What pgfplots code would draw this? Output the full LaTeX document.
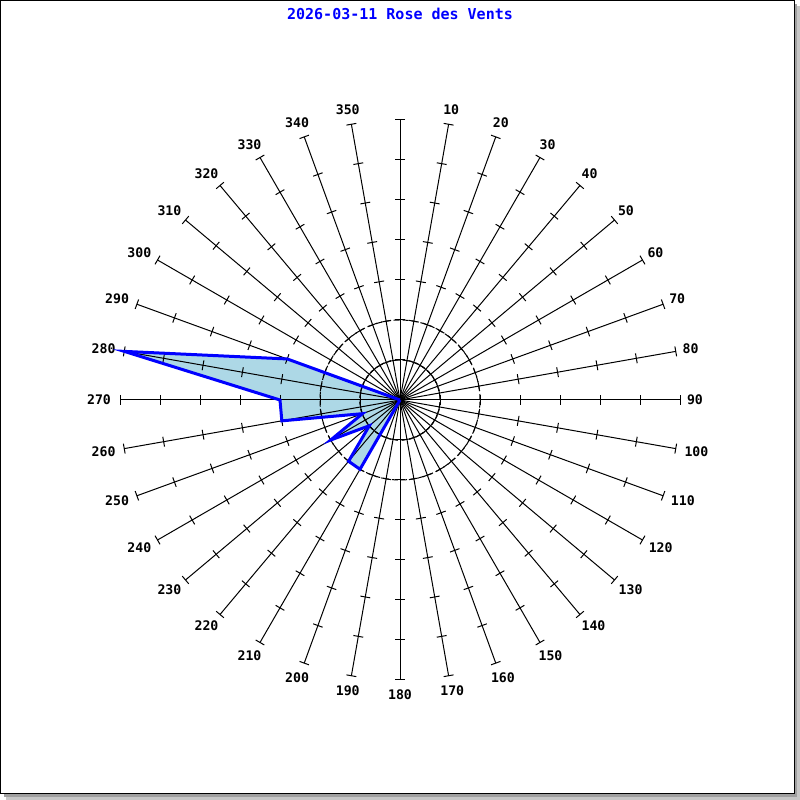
\documentclass[border=0pt]{standalone}
\usepackage{fontspec}
\setmonofont{DejaVu Sans Mono}
\usepackage{pgfplots}
\pgfplotsset{compat=1.18}
\usepackage{pgfplotstable}
\usepgfplotslibrary{polar}
\definecolor{fillblue}{HTML}{ADD8E6}
\definecolor{lineblue}{HTML}{0000FF}

\pgfplotstableread{
dir r
0 0
10 0
20 0
30 0
40 0
50 0
60 0
70 0
80 0
90 0
100 0
110 0
120 0
130 0
140 0
150 0
160 0
170 0
180 0
190 0
200 0
210 2
220 2
230 1
240 2
250 1
260 3
270 3
280 7
290 3
300 0
310 0
320 0
330 0
340 0
350 0
}\windtable

\begin{document}
\begin{tikzpicture}[font=\ttfamily\bfseries\fontsize{6.6}{8}\selectfont]
\begin{axis}[x=20pt,y=20pt,xmin=-10,xmax=10,ymin=-10,ymax=10,
  hide axis, clip=false]
\coordinate (BL) at (axis cs:-10,-10);
\coordinate (TR) at (axis cs:10,10);
\pgfplotsextra{
  \fill[gray!45] (axis cs:-9.85,-10) rectangle (axis cs:10,9.85);
  \fill[gray!75] (axis cs:-9.9,-9.925) rectangle (axis cs:9.925,9.9);
  \draw[line width=0.5pt,fill=white] (axis cs:-9.9875,-9.85) rectangle (axis cs:9.85,9.9875);
}
\addplot[fill=fillblue, draw=none, data cs=polar] table[x expr={90-\thisrow{dir}}, y=r]{\windtable};
\pgfplotsextra{
  \foreach \a in {0,10,...,350}{
    \begin{scope}[shift={(axis cs:0,0)},rotate={90-\a}]
      \draw[line width=0.5pt] (0pt,0pt) -- (140pt,0pt);
      \foreach \k in {1,...,7}{
        \draw[line width=0.5pt] (\k*20pt,-2.5pt) -- (\k*20pt,2.5pt);
      }
    \end{scope}
  }
  \draw[line width=0.5pt,dash pattern=on 3pt off 1.5pt] (axis cs:0,0) circle[radius=20pt];
  \draw[line width=0.5pt,dash pattern=on 3pt off 1.5pt] (axis cs:0,0) circle[radius=40pt];
  \foreach \a in {10,20,...,350}{
    \pgfmathsetmacro\ang{90-\a}
    \pgfmathsetmacro\dx{(\a>=100)*3*sin(\a)}
    \node[inner sep=0pt, anchor=center, xshift=\dx pt] at ([shift={(\ang:147.5pt)}]axis cs:0,0) {\a};
  }
}
\addplot[draw=lineblue, line width=1.5pt, line join=miter, data cs=polar] table[x expr={90-\thisrow{dir}}, y=r]{\windtable};
\node[text=lineblue, font=\ttfamily\bfseries\fontsize{7.5}{9}\selectfont] at (axis cs:0,9.65) {2026-03-11 Rose des Vents};
\end{axis}
\pgfresetboundingbox
\path[use as bounding box] (BL) rectangle (TR);
\end{tikzpicture}
\end{document}
